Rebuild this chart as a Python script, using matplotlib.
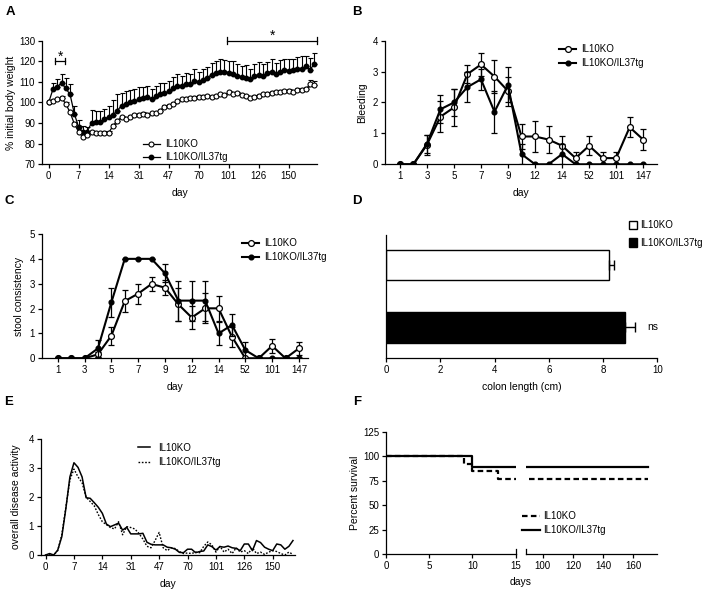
import numpy as np
import matplotlib.pyplot as plt

plt.rcParams['font.family'] = ['Liberation Sans', 'DejaVu Sans']
plt.rcParams['font.size'] = 7

# ---- panel A: body weight ----
a_ticklabels = ['0', '7', '14', '31', '47', '70', '101', '126', '150']
a_ko = [100, 100.7, 101.5, 102.3, 99.3, 95.2, 89.6, 85.7, 83.1, 84, 85.5, 85, 85, 85.2, 85.3,
        88.6, 91.2, 92.8, 91.8, 93.1, 93.8, 94, 94.4, 94, 94.7, 94.7, 96, 98, 98.5, 99.3,
        100.5, 101.5, 101.8, 102, 102.3, 102.8, 102.8, 103, 102.5, 103, 104, 103.5, 105, 104,
        104.5, 103.5, 103, 102, 102.8, 103.3, 104, 104.3, 104.6, 105, 105.2, 105.5, 105.8, 105,
        106, 106.2, 106.5, 108.8, 108.3]
a_ko_sem = [0.8] * 61 + [2, 2]
a_tg = [100, 106.4, 107.6, 109.5, 106.8, 103.9, 94.5, 88, 85.5, 85.8, 90.2, 90.5, 90.5, 92, 93,
        94, 96, 98.5, 99.5, 100, 100.5, 101.5, 102, 102.5, 101.5, 103, 104, 104.5, 105.5, 107,
        108, 108, 109, 109, 110.5, 110, 111, 112, 113.5, 114.5, 115, 115, 114.5, 114, 113,
        112.5, 112, 111.5, 113, 113.5, 113, 114.5, 115, 114, 115, 116, 115.5, 116, 116.5, 116.5,
        117.5, 116, 118.8]
a_tg_sem = [0, 3.2, 4, 4.5, 5, 5, 4, 3.5, 3, 2.5, 6, 5.5, 5.5, 5, 5.5, 7, 8, 6, 6, 6, 6, 6, 5.5,
            5.5, 5, 5, 5.5, 5, 5, 5.5, 6, 5, 5.5, 5, 6, 5, 5.5, 5, 5.5, 5.5, 6, 5.5, 5.5, 6, 5.5,
            5, 6, 5, 5.5, 6, 5.5, 5, 6, 5, 5.5, 5, 5.5, 5, 5.5, 6, 5, 5.5, 5]

# ---- panels B and C ----
bc_ticklabels = ['1', '3', '5', '7', '9', '12', '14', '52', '101', '147']
b_ko = [0, 0, 0.63, 1.54, 1.84, 2.92, 3.23, 2.84, 2.37, 0.9, 0.9, 0.8, 0.6, 0.2, 0.6, 0.2, 0.2, 1.2, 0.8]
b_ko_err = [0, 0, 0.33, 0.5, 0.6, 0.3, 0.37, 0.52, 0.47, 0.42, 0.5, 0.45, 0.3, 0.2, 0.3, 0.2, 0.2, 0.33, 0.33]
b_tg = [0, 0, 0.66, 1.78, 2.0, 2.5, 2.75, 1.7, 2.57, 0.33, 0, 0, 0.33, 0, 0, 0, 0, 0, 0]
b_tg_err = [0, 0, 0.3, 0.45, 0.45, 0.5, 0.35, 0.68, 0.57, 0.33, 0, 0, 0.33, 0, 0, 0, 0, 0, 0]

c_ko = [0, 0, 0, 0.16, 0.91, 2.3, 2.6, 2.99, 2.84, 2.17, 1.64, 2.01, 2.01, 0.87, 0, 0, 0.5, 0, 0.4]
c_ko_err = [0, 0, 0, 0.1, 0.36, 0.43, 0.4, 0.28, 0.3, 0.65, 0.45, 0.6, 0.5, 0.4, 0, 0, 0.27, 0, 0.27]
c_tg = [0, 0, 0, 0.4, 2.25, 4.0, 4.0, 4.0, 3.42, 2.32, 2.32, 2.32, 1.0, 1.34, 0.33, 0, 0, 0, 0]
c_tg_err = [0, 0, 0, 0.33, 0.58, 0, 0, 0, 0.37, 0.8, 0.8, 0.8, 0.47, 0.43, 0.33, 0, 0, 0, 0]

# ---- panel D: colon length ----
d_groups = ['IL10KO', 'IL10KO/IL37tg']
d_length = [8.22, 8.8]
d_err = [0.2, 0.38]

# ---- panel E: overall disease activity ----
e_ko = [0, 0.05, 0, 0.17, 0.63, 1.6, 2.7, 3.19, 3.03, 2.7, 1.98, 1.96, 1.81, 1.65, 1.44, 1.07,
        0.98, 1.04, 1.1, 0.86, 0.96, 0.73, 0.73, 0.73, 0.75, 0.44, 0.37, 0.35, 0.35, 0.35, 0.27,
        0.25, 0.2, 0.09, 0.08, 0.2, 0.2, 0.08, 0.12, 0.14, 0.35, 0.29, 0.17, 0.29, 0.27, 0.31,
        0.25, 0.23, 0.15, 0.38, 0.38, 0.15, 0.5, 0.43, 0.27, 0.2, 0.15, 0.38, 0.35, 0.2, 0.3, 0.5]
e_tg = [0, 0.03, 0, 0.15, 0.7, 1.65, 2.6, 2.97, 2.7, 2.5, 2.0, 1.85, 1.7, 1.4, 1.15, 1.05, 0.95,
        0.9, 1.15, 0.7, 0.98, 0.95, 0.9, 0.75, 0.55, 0.3, 0.25, 0.5, 0.78, 0.25, 0.15, 0.25, 0.22,
        0.12, 0.05, 0.07, 0.05, 0.1, 0.08, 0.3, 0.45, 0.35, 0.1, 0.3, 0.1, 0.2, 0.05, 0.25, 0.1,
        0.15, 0.05, 0.25, 0.05, 0.1, 0.02, 0.1, 0.15, 0.12, 0.05, 0.0, 0.1, 0.02]

# ---- panel F: survival ----
f_ko_days = [0, 9, 10, 13, 170]
f_ko_surv = [100, 92.3, 84.6, 76.9, 76.9]
f_tg_days = [0, 10, 170]
f_tg_surv = [100, 88.9, 88.9]

W, H = 707, 589


def box(x0, y0, x1, y1):
    return [x0 / W, 1 - y1 / H, (x1 - x0) / W, (y1 - y0) / H]


def style(ax):
    for s in ['top', 'right']:
        ax.spines[s].set_visible(False)
    for s in ['left', 'bottom']:
        ax.spines[s].set_linewidth(0.9)
    ax.tick_params(direction='out', length=3, width=0.9, labelsize=7, pad=2)


fig = plt.figure(figsize=(7.07, 5.89), dpi=100)

# ================= A =================
ax = fig.add_axes(box(42, 40.7, 317, 164.3))
style(ax)
xa = np.arange(len(a_ko))
ko_eb = ax.errorbar(xa, a_ko, yerr=[np.zeros(len(a_ko)), a_ko_sem], color='black', lw=0.9,
                    elinewidth=0.8, capsize=1.8, capthick=0.8, marker='o', ms=3.6, mfc='white',
                    mec='black', mew=0.8, zorder=3)
tg_eb = ax.errorbar(xa, a_tg, yerr=[np.zeros(len(a_tg)), a_tg_sem], color='black', lw=0.9,
                    elinewidth=0.8, capsize=1.8, capthick=0.8, marker='o', ms=3.2, mfc='black',
                    mec='black', zorder=2)
ax.set_xlim(-1.55, 62.6)
ax.set_ylim(70, 130)
ax.set_yticks(range(70, 131, 10))
ax.set_xticks(range(0, 57, 7))
ax.set_xticklabels(a_ticklabels)
ax.set_xlabel('day', fontsize=7.5, labelpad=5)
ax.set_ylabel('% initial body weight', fontsize=7.5, labelpad=2)
# significance brackets
ax.plot([1.47, 3.87], [120, 120], color='black', lw=0.9, clip_on=False)
ax.plot([1.47, 1.47], [118.6, 121.4], color='black', lw=0.9, clip_on=False)
ax.plot([3.87, 3.87], [118.6, 121.4], color='black', lw=0.9, clip_on=False)
ax.text(2.67, 122.2, '*', ha='center', va='center', fontsize=10)
ax.plot([41.5, 62.6], [130, 130], color='black', lw=0.9, clip_on=False)
ax.plot([41.5, 41.5], [128.4, 131.6], color='black', lw=0.9, clip_on=False)
ax.plot([62.6, 62.6], [128.4, 131.6], color='black', lw=0.9, clip_on=False)
ax.text(52.2, 132.3, '*', ha='center', va='center', fontsize=10, clip_on=False)
ax.legend([ko_eb[0], tg_eb[0]], ['IL10KO', 'IL10KO/IL37tg'], loc='upper left',
          bbox_to_anchor=(0.366, 0.205), frameon=False, fontsize=7,
          handlelength=1.8, handletextpad=0.5, labelspacing=0.35, borderpad=0,
          borderaxespad=0, numpoints=1)

# ================= B and C =================
def score_panel(rect, ko, ko_err, tg, tg_err, ylabel, ymax, xlim, leg_xy):
    ax = fig.add_axes(rect)
    style(ax)
    x = np.arange(len(ko))
    e1 = ax.errorbar(x, ko, yerr=ko_err, color='black', lw=1.5, elinewidth=0.9, capsize=2.5,
                     capthick=0.9, marker='o', ms=4.2, mfc='white', mec='black', mew=0.9,
                     zorder=2)
    e2 = ax.errorbar(x, tg, yerr=tg_err, color='black', lw=1.5, elinewidth=0.9, capsize=2.5,
                     capthick=0.9, marker='o', ms=3.4, mfc='black', mec='black', zorder=3)
    ax.set_xlim(*xlim)
    ax.set_ylim(0, ymax)
    ax.set_yticks(range(0, ymax + 1))
    ax.set_xticks(range(0, 19, 2))
    ax.set_xticklabels(bc_ticklabels)
    ax.set_xlabel('day', fontsize=7.5, labelpad=5)
    ax.set_ylabel(ylabel, fontsize=7.5, labelpad=4)
    ax.legend([e1[0], e2[0]], ['IL10KO', 'IL10KO/IL37tg'], loc='upper left',
              bbox_to_anchor=leg_xy, frameon=False, fontsize=7,
              handlelength=1.8, handletextpad=0.5, labelspacing=0.4, borderpad=0,
              borderaxespad=0, numpoints=1)
    for eb in (e1, e2):
        for bar in eb[2]:
            bar.set_clip_on(False)
    return ax


score_panel(box(385, 40.7, 656.7, 164.3), b_ko, b_ko_err, b_tg, b_tg_err, 'Bleeding', 4,
            (-1.1, 19), (0.64, 0.97))
score_panel(box(41.7, 234, 308.3, 358.3), c_ko, c_ko_err, c_tg, c_tg_err, 'stool consistency', 5,
            (-1.2, 18.7), (0.751, 0.965))

# ================= D =================
ax = fig.add_axes(box(386, 235, 657.3, 358.3))
style(ax)
ypos = [1, 0]
ax.barh(ypos[0], d_length[0], height=0.48, color='white', edgecolor='black', lw=1,
        label=d_groups[0])
ax.barh(ypos[1], d_length[1], height=0.5, color='black', edgecolor='black', lw=1,
        label=d_groups[1])
ax.errorbar(d_length, ypos, xerr=[[0, 0], d_err], fmt='none', ecolor='black',
            elinewidth=1, capsize=3.5, capthick=1)
ax.set_xlim(0, 10)
ax.set_ylim(-0.5, 1.48)
ax.set_xticks(range(0, 11, 2))
ax.set_yticks([])
ax.set_xlabel('colon length (cm)', fontsize=7.5, labelpad=5)
ax.text(9.85, 0, 'ns', ha='center', va='center', fontsize=7.5)
ax.legend(loc='upper left', bbox_to_anchor=(0.895, 1.12), frameon=False, fontsize=7,
          handlelength=0.85, handleheight=0.95, handletextpad=0.3, labelspacing=0.8,
          borderpad=0, borderaxespad=0)

# ================= E =================
ax = fig.add_axes(box(40.7, 439.3, 295, 555))
style(ax)
xe = np.arange(len(e_ko))
ax.plot(xe, e_ko, color='black', lw=1.1, label='IL10KO')
ax.plot(xe, e_tg, color='black', lw=1.0, linestyle=(0, (1.2, 1.2)), label='IL10KO/IL37tg')
ax.set_xlim(-1.2, 61.5)
ax.set_ylim(0, 4)
ax.set_yticks(range(0, 5))
ax.set_xticks(range(0, 57, 7))
ax.set_xticklabels(a_ticklabels)
ax.set_xlabel('day', fontsize=7.5, labelpad=5)
ax.set_ylabel('overall disease activity', fontsize=7.5, labelpad=5)
ax.legend(loc='upper left', bbox_to_anchor=(0.383, 0.97), frameon=False, fontsize=7,
          handlelength=1.25, handletextpad=0.85, labelspacing=0.45, borderpad=0,
          borderaxespad=0)

# ================= F =================
axl = fig.add_axes(box(386, 431.7, 515.7, 554.3))
axr = fig.add_axes(box(525.7, 431.7, 656.7, 554.3))
style(axl)
style(axr)
for a in (axl, axr):
    a.step(f_ko_days, f_ko_surv, where='post', color='black', lw=1.6,
           linestyle=(0, (2.5, 1.5)), label='IL10KO')
    a.step(f_tg_days, f_tg_surv, where='post', color='black', lw=1.6, label='IL10KO/IL37tg')
    a.set_ylim(0, 125)
axl.set_xlim(0, 15)
axl.set_xticks([0, 5, 10, 15])
axl.set_yticks(range(0, 126, 25))
axl.set_ylabel('Percent survival', fontsize=7.5, labelpad=2)
axr.set_xlim(88.7, 175.5)
axr.set_xticks([100, 120, 140, 160])
axr.spines['left'].set_visible(False)
axr.set_yticks([])
# axis break marks
axl.plot([1, 1], [0, 0.04], transform=axl.transAxes, color='black', lw=0.9, clip_on=False)
axr.plot([0, 0], [0, 0.04], transform=axr.transAxes, color='black', lw=0.9, clip_on=False)
fig.text(521 / W, 1 - 582 / H, 'days', ha='center', va='center', fontsize=7.5)
h, l = axr.get_legend_handles_labels()
fig.legend(h, l, loc='upper left', bbox_to_anchor=(521.7 / W, 1 - 511 / H), frameon=False,
           fontsize=7, handlelength=1.9, handletextpad=0.35, labelspacing=0.45,
           borderpad=0, borderaxespad=0)

# panel letters
for letter, (px, py) in zip('ABCDEF', [(10, 12), (357, 12), (9, 201), (357, 201),
                                       (9, 402), (357, 402)]):
    fig.text(px / W, 1 - py / H, letter, ha='center', va='center', fontsize=9.5,
             fontweight='bold')

fig.savefig('out.png', dpi=100)
